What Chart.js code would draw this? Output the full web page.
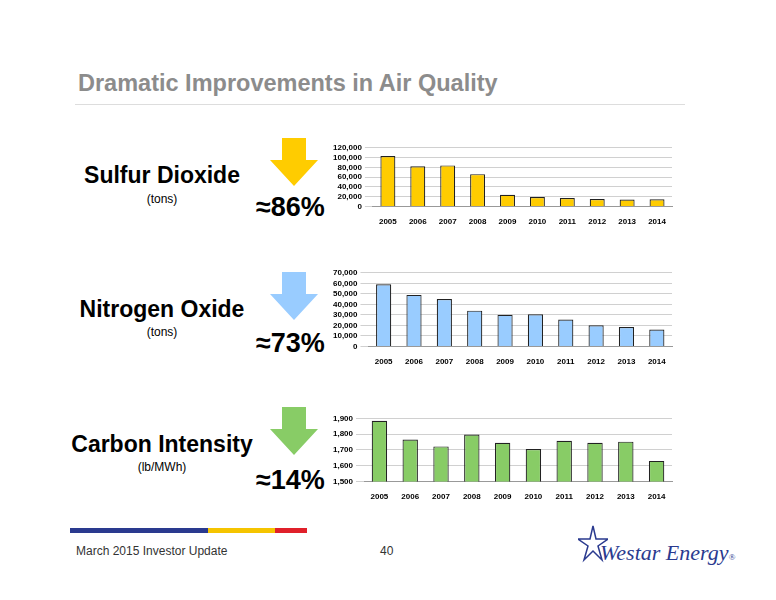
<!DOCTYPE html>
<html><head><meta charset="utf-8">
<script src="https://cdn.jsdelivr.net/npm/chart.js@4"></script>
<style>
body{margin:0;width:776px;height:600px;background:#fff;font-family:"Liberation Sans",Arial,sans-serif;position:relative;overflow:hidden}
.abs{position:absolute}
.t{color:#8c8c8c;font-size:23.5px;font-weight:bold;left:78px;top:70px}
.lbl{font-weight:bold;font-size:23px;color:#000;text-align:center;width:220px}
.sub{font-size:12px;text-align:center;width:220px;color:#000}
.pct{font-weight:bold;font-size:27px;color:#000}
canvas{position:absolute}
</style></head><body>
<div class="abs t">Dramatic Improvements in Air Quality</div>
<div class="abs" style="left:75px;top:104px;width:610px;height:1px;background:#ddd"></div>

<div class="abs lbl" style="left:52px;top:162px">Sulfur Dioxide</div>
<div class="abs sub" style="left:52px;top:192px">(tons)</div>
<div class="abs pct" style="left:256px;top:192px">≈86%</div>
<svg class="abs" style="left:270px;top:138px" width="50" height="50"><polygon points="12,0 36,0 36,22 48,22 24,48 0,22 12,22" fill="#ffcc00"/></svg>

<div class="abs lbl" style="left:52px;top:296px">Nitrogen Oxide</div>
<div class="abs sub" style="left:52px;top:325px">(tons)</div>
<div class="abs pct" style="left:256px;top:328px">≈73%</div>
<svg class="abs" style="left:270px;top:272px" width="50" height="50"><polygon points="12,0 36,0 36,22 48,22 24,48 0,22 12,22" fill="#99ccff"/></svg>

<div class="abs lbl" style="left:52px;top:431px">Carbon Intensity</div>
<div class="abs sub" style="left:52px;top:460px">(lb/MWh)</div>
<div class="abs pct" style="left:256px;top:465px">≈14%</div>
<svg class="abs" style="left:270px;top:407px" width="50" height="50"><polygon points="12,0 36,0 36,22 48,22 24,48 0,22 12,22" fill="#88cc66"/></svg>

<canvas id="c1" style="left:330px;top:140px" width="350" height="90"></canvas>
<canvas id="c2" style="left:330px;top:265px" width="350" height="105"></canvas>
<canvas id="c3" style="left:330px;top:405px" width="350" height="100"></canvas>

<div class="abs" style="left:70px;top:528px;width:138px;height:5px;background:#2a3a8f"></div>
<div class="abs" style="left:208px;top:528px;width:67px;height:5px;background:#f5c400"></div>
<div class="abs" style="left:275px;top:528px;width:32px;height:5px;background:#e0202a"></div>
<div class="abs" style="left:76px;top:544px;font-size:12px;color:#333">March 2015 Investor Update</div>
<div class="abs" style="left:380px;top:544px;font-size:12px;color:#333">40</div>
<svg class="abs" style="left:578px;top:524px" width="30" height="40"><polygon points="15,2 18,15 30,15 20,22 24,36 15,27 6,36 10,22 0,15 12,15" fill="none" stroke="#2a3a8f" stroke-width="1.5"/></svg>
<div class="abs" style="left:600px;top:540px;font-family:'Liberation Serif',serif;font-style:italic;font-size:22px;color:#2a3a8f">Westar Energy<span style="font-size:9px">®</span></div>

<script>
const years = ['2005','2006','2007','2008','2009','2010','2011','2012','2013','2014'];
const so2 = [103000, 82000, 84000, 66000, 24000, 19000, 17000, 15000, 14000, 14500];
const nox = [59000, 49000, 45000, 34000, 30000, 30500, 25500, 20000, 18500, 16000];
const carbon = [1885, 1765, 1722, 1797, 1745, 1705, 1758, 1745, 1752, 1630];
const so2Ticks = [0, 20000, 40000, 60000, 80000, 100000, 120000];
const noxTicks = [0, 10000, 20000, 30000, 40000, 50000, 60000, 70000];
const carbonTicks = [1500, 1600, 1700, 1800, 1900];

function mk(id, data, color, tickVals, max){
  new Chart(document.getElementById(id), {
    type: 'bar',
    data: { labels: years, datasets: [{ data, backgroundColor: color, borderColor: '#222', borderWidth: 1.2, barPercentage: 0.5, categoryPercentage: 1 }] },
    options: {
      responsive: false, animation: false,
      plugins: { legend: { display: false }, tooltip: { enabled: false } },
      layout: { padding: { top: 2, right: 8 } },
      scales: {
        x: { grid: { display: false }, border: { color: '#999' },
             ticks: { autoSkip: false, color: '#000', font: { size: 8, weight: 'bold', family: 'Liberation Sans' }, maxRotation: 0 } },
        y: { min: tickVals[0], max, grid: { color: '#d0d0d0' }, border: { display: false },
             afterBuildTicks: ax => { ax.ticks = tickVals.map(v => ({ value: v })); },
             ticks: { autoSkip: false, color: '#000', font: { size: 8, weight: 'bold', family: 'Liberation Sans' },
                      callback: v => v.toLocaleString('en-US') } }
      }
    }
  });
}
mk('c1', so2, '#ffcc00', so2Ticks, 120000);
mk('c2', nox, '#99ccff', noxTicks, 70000);
mk('c3', carbon, '#88cc66', carbonTicks, 1935);
</script>
</body></html>
